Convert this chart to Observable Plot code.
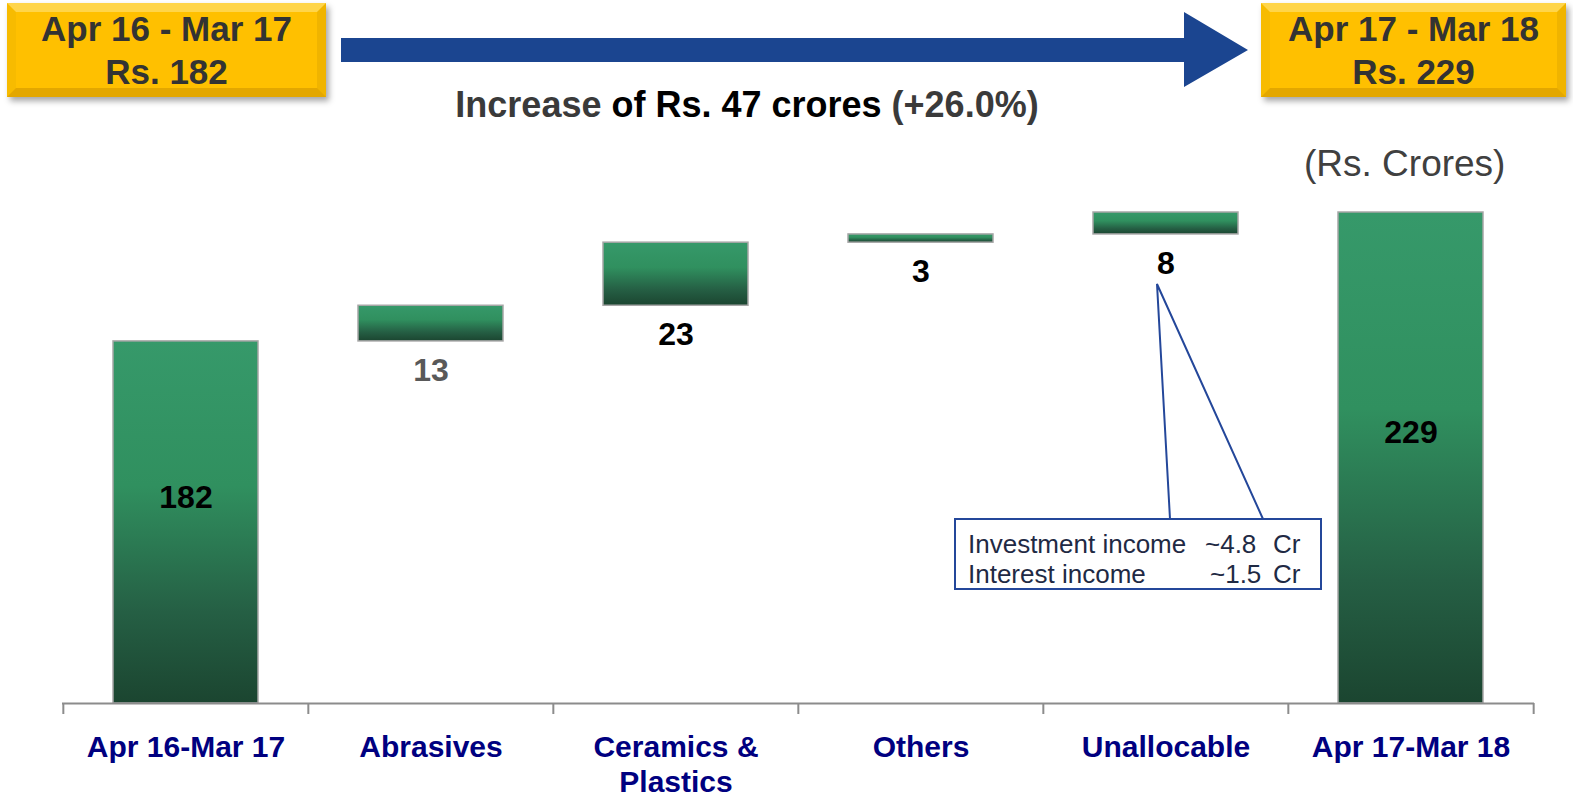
<!DOCTYPE html>
<html>
<head>
<meta charset="utf-8">
<script src="https://cdn.jsdelivr.net/npm/d3@7"></script>
<script src="https://cdn.jsdelivr.net/npm/@observablehq/plot@0.6"></script>
<style>
  html, body { margin: 0; padding: 0; background: #fff; }
  body { font-family: "Liberation Sans", Arial, sans-serif; }
  #page { position: relative; width: 1573px; height: 800px; overflow: hidden; background: #fff; }
  .ybox {
    position: absolute; box-sizing: border-box;
    background: #ffc000;
    border-style: solid; border-width: 9px;
    border-top-color: #ffd54a; border-left-color: #f7bb00;
    border-right-color: #f0b400; border-bottom-color: #e3a700;
    box-shadow: 3px 4px 6px rgba(0,0,0,0.35);
    color: #333333; font-weight: bold; font-size: 35px; line-height: 43px;
    text-align: center; display: flex; flex-direction: column; justify-content: center;
  }
  #subtitle {
    position: absolute; left: 747px; top: 87px; transform: translateX(-50%);
    font-size: 36px; line-height: 36px; font-weight: bold; white-space: nowrap; color: #000;
  }
  #subtitle .g { color: #3a3a3a; }
  #units { position: absolute; left: 1304px; top: 145px; font-size: 37px; line-height: 37px; color: #404040; white-space: nowrap; }
  #chart { position: absolute; left: 0; top: 150px; }
  #overlay { position: absolute; left: 0; top: 0; pointer-events: none; }
</style>
</head>
<body>
<div id="page">
  <div class="ybox" style="left:7px; top:3px; width:319px; height:94px;"><div>Apr 16 - Mar 17</div><div>Rs. 182</div></div>
  <div class="ybox" style="left:1261px; top:3px; width:305px; height:94px;"><div>Apr 17 - Mar 18</div><div>Rs. 229</div></div>
  <svg id="arrowsvg" width="1573" height="100" style="position:absolute;left:0;top:0">
    <polygon points="341,38 1184,38 1184,12 1248,50 1184,87 1184,62 341,62" fill="#1b4590"/>
  </svg>
  <div id="subtitle"><span class="g">Increase</span> of Rs. 47 crores <span class="g">(+26.0%)</span></div>
  <div id="units">(Rs. Crores)</div>
  <div id="chart"></div>
  <svg id="overlay" width="1573" height="800">
    <polyline points="1170,519 1157,284 1263,519" fill="none" stroke="#24479a" stroke-width="2"/>
    <rect x="955" y="519" width="366" height="70" fill="#fff" stroke="#24479a" stroke-width="2"/>
    <g font-family="Liberation Sans, Arial, sans-serif" font-size="26" fill="#1f2a44">
      <text x="968" y="553">Investment income</text>
      <text x="1205" y="553">~4.8</text>
      <text x="1273" y="553">Cr</text>
      <text x="968" y="583">Interest income</text>
      <text x="1210" y="583">~1.5</text>
      <text x="1273" y="583">Cr</text>
    </g>
  </svg>
</div>
<script>
// ---- data ----
const categories = ["Apr 16-Mar 17", "Abrasives", "Ceramics & Plastics", "Others", "Unallocable", "Apr 17-Mar 18"];
const tickLabels = ["Apr 16-Mar 17", "Abrasives", "Ceramics &\nPlastics", "Others", "Unallocable", "Apr 17-Mar 18"];
const values = [182, 13, 23, 3, 8, 229];
const kinds = ["total", "delta", "delta", "delta", "delta", "total"];
const yBase = 50;   // value axis starts at 50 in the original
const yTop = 229;

// ---- build waterfall table ----
let running = 0;
const rows = categories.map((cat, i) => {
  let y1, y2;
  if (kinds[i] === "total") { y1 = yBase; y2 = values[i]; running = values[i]; }
  else { y1 = running; y2 = running + values[i]; running = y2; }
  return { cat, label: tickLabels[i], value: values[i], kind: kinds[i], y1, y2 };
});

const width = 1573, height = 650;
const marginLeft = 62, marginRight = 39, marginTop = 62, marginBottom = 97;
const bw = (width - marginLeft - marginRight) / categories.length;
const plotH = height - marginTop - marginBottom;
const font = "Liberation Sans, Arial, sans-serif";

const chart = Plot.plot({
  width, height, marginLeft, marginRight, marginTop, marginBottom,
  x: { domain: categories, padding: 0, axis: null },
  y: { domain: [yBase, yTop], axis: null },
  color: { type: "identity" },
  style: { fontFamily: font, background: "transparent", overflow: "visible" },
  marks: [
    Plot.barY(rows, {
      x: "cat", y1: "y1", y2: "y2",
      fill: "url(#barGrad)", stroke: "#a6a6a6", strokeWidth: 1.5,
      insetLeft: 50, insetRight: 50
    }),
    Plot.ruleY([yBase], { stroke: "#8c8c8c", strokeWidth: 2 }),
    Plot.ruleX(categories, { x: d => d, dx: -bw / 2, insetTop: plotH, insetBottom: -11, stroke: "#8c8c8c", strokeWidth: 2 }),
    Plot.ruleX(categories.slice(-1), { x: d => d, dx: bw / 2, insetTop: plotH, insetBottom: -11, stroke: "#8c8c8c", strokeWidth: 2 }),
    Plot.text(rows.filter(d => d.kind === "total"), {
      x: "cat", y: d => (d.y1 + d.y2) / 2, text: d => String(d.value),
      dy: -25, fontSize: 32, fontWeight: "bold", fill: "#000"
    }),
    Plot.text(rows.filter(d => d.kind === "delta"), {
      x: "cat", y: "y1", text: d => String(d.value),
      dy: 29, fontSize: 32, fontWeight: "bold",
      fill: d => d.cat === "Abrasives" ? "#595959" : "#000"
    }),
    Plot.text(rows, {
      x: "cat", frameAnchor: "bottom", text: "label",
      dy: 28, lineAnchor: "top", lineHeight: 1.18,
      fontSize: 30, fontWeight: "bold", fill: "#000080"
    })
  ]
});

chart.insertAdjacentHTML("afterbegin",
  `<defs><linearGradient id="barGrad" x1="0" y1="0" x2="0" y2="1">
     <stop offset="0" stop-color="#36996a"/>
     <stop offset="0.4" stop-color="#30905f"/>
     <stop offset="0.75" stop-color="#255f44"/>
     <stop offset="1" stop-color="#1b4530"/>
   </linearGradient></defs>`);
document.getElementById("chart").appendChild(chart);
</script>
</body>
</html>
